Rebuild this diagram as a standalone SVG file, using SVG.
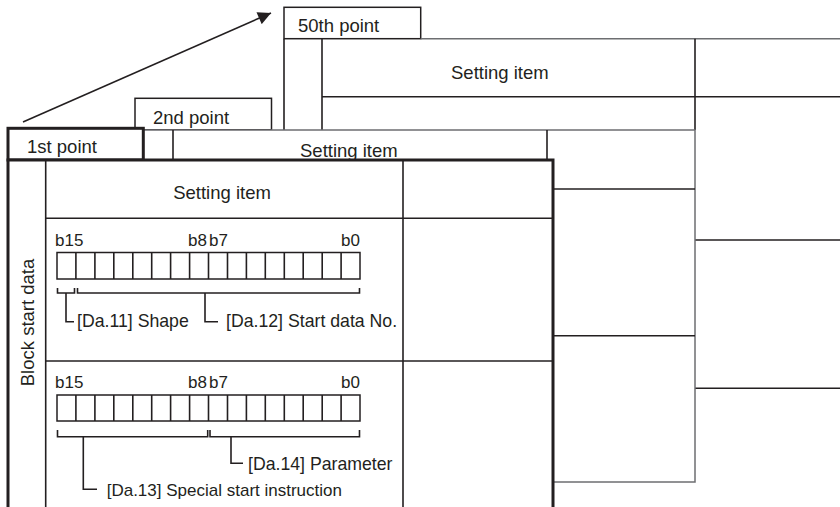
<svg xmlns="http://www.w3.org/2000/svg" width="840" height="507" viewBox="0 0 840 507">
<style>
.ln{stroke:#231f20;stroke-width:1.6;fill:none}
.gr{stroke:#6d6e71;stroke-width:1.5;fill:none}
.bx{stroke:#231f20;stroke-width:1.5;fill:#fff}
.thk{stroke:#231f20;stroke-width:3;fill:#fff}
.t{font-family:"Liberation Sans",Arial,sans-serif;font-size:18.5px;fill:#231f20}
.b{font-family:"Liberation Sans",Arial,sans-serif;font-size:17px;fill:#231f20}
.l{font-family:"Liberation Sans",Arial,sans-serif;font-size:17.7px;fill:#231f20}
</style>
<defs>
<marker id="ah" viewBox="0 0 10 10" refX="10" refY="5" markerWidth="14" markerHeight="13" markerUnits="userSpaceOnUse" orient="auto">
<path d="M0,0 L10,5 L0,10 z" fill="#231f20"/>
</marker>
</defs>
<rect width="840" height="507" fill="#fff"/>

<g id="connectors">
<line x1="23" y1="122" x2="271" y2="13" class="ln" marker-end="url(#ah)"/>
</g>

<g id="point50">
<rect x="284" y="7.3" width="136.7" height="31.4" class="bx"/>
<text x="298" y="32" class="t">50th point</text>
<line x1="420.7" y1="38.7" x2="840" y2="38.7" class="gr"/>
<line x1="284" y1="38.7" x2="284" y2="130" class="ln"/>
<line x1="322" y1="38.7" x2="322" y2="130" class="ln"/>
<line x1="322" y1="96.7" x2="840" y2="96.7" class="ln"/>
<line x1="695" y1="38.7" x2="695" y2="130" class="ln"/>
<line x1="695" y1="240" x2="840" y2="240" class="ln"/>
<line x1="695" y1="388.3" x2="840" y2="388.3" class="ln"/>
<text x="451" y="79" class="t">Setting item</text>
</g>

<g id="point2">
<rect x="135" y="98.3" width="136.5" height="31.5" class="bx"/>
<text x="153" y="123.5" class="t">2nd point</text>
<rect x="135" y="130" width="560" height="352" fill="#fff" stroke="#6d6e71" stroke-width="1.5"/>
<line x1="173" y1="130" x2="173" y2="482" class="ln"/>
<line x1="547" y1="130" x2="547" y2="482" class="ln"/>
<line x1="173" y1="189" x2="695" y2="189" class="ln"/>
<line x1="173" y1="335.7" x2="695" y2="335.7" class="ln"/>
<text x="300" y="157" class="t">Setting item</text>
</g>

<g id="point1">
<rect x="8" y="128.3" width="135.3" height="31.7" class="thk"/>
<text x="27" y="153" class="t">1st point</text>
<rect x="8" y="160" width="545" height="370" class="thk"/>
<line x1="45.7" y1="160" x2="45.7" y2="530" class="ln"/>
<line x1="403" y1="160" x2="403" y2="530" class="ln"/>
<line x1="45.7" y1="218.3" x2="553" y2="218.3" class="ln"/>
<line x1="45.7" y1="361" x2="553" y2="361" class="ln"/>
<text x="222" y="199" class="t" text-anchor="middle">Setting item</text>
<text transform="translate(34,322.5) rotate(-90)" class="t" text-anchor="middle">Block start data</text>

<g id="row-da11-12">
<text x="55" y="246" class="b">b15</text>
<text x="188" y="246" class="b">b8</text>
<text x="209" y="246" class="b">b7</text>
<text x="360" y="246" class="b" text-anchor="end">b0</text>
<rect x="57" y="252.5" width="303" height="26.5" class="bx"/>
<path class="ln" d="M75.9,252.5V279M94.9,252.5V279M113.8,252.5V279M132.8,252.5V279M151.7,252.5V279M170.6,252.5V279M189.6,252.5V279M208.5,252.5V279M227.5,252.5V279M246.4,252.5V279M265.3,252.5V279M284.3,252.5V279M303.2,252.5V279M322.2,252.5V279M341.1,252.5V279"/>
<path class="ln" d="M57.5,288V293H74.5V288M77.5,288V293H359.5V288"/>
<path class="ln" d="M66,293V321.7H74M205,293V321.7H218"/>
<text x="77" y="327" class="l">[Da.11] Shape</text>
<text x="226" y="327" class="l">[Da.12] Start data No.</text>
</g>

<g id="row-da13-14">
<text x="55" y="388.3" class="b">b15</text>
<text x="188" y="388.3" class="b">b8</text>
<text x="209" y="388.3" class="b">b7</text>
<text x="360" y="388.3" class="b" text-anchor="end">b0</text>
<rect x="57" y="395" width="303" height="26" class="bx"/>
<path class="ln" d="M75.9,395V421M94.9,395V421M113.8,395V421M132.8,395V421M151.7,395V421M170.6,395V421M189.6,395V421M208.5,395V421M227.5,395V421M246.4,395V421M265.3,395V421M284.3,395V421M303.2,395V421M322.2,395V421M341.1,395V421"/>
<path class="ln" d="M57.5,430V436.7H207.7V430M210,430V436.7H359.5V430"/>
<path class="ln" d="M231,436.7V463.3H243M83.3,436.7V489.3H97"/>
<text x="248" y="469.5" class="l">[Da.14] Parameter</text>
<text x="106.7" y="496" class="l" style="font-size:17px">[Da.13] Special start instruction</text>
</g>
</g>
</svg>
